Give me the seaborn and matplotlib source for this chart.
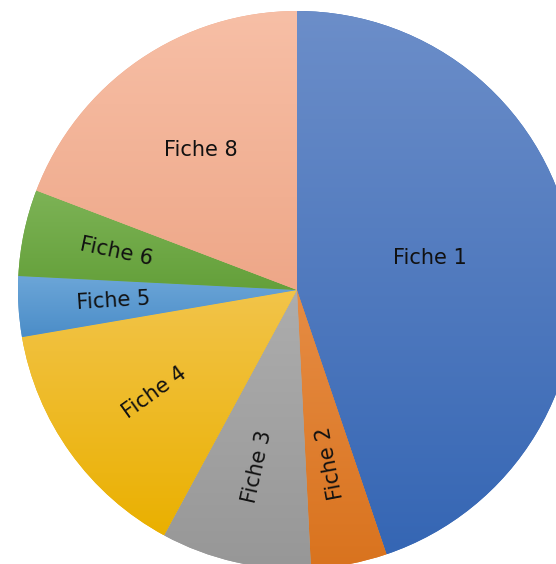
import numpy as np
import matplotlib
matplotlib.use("Agg")
import matplotlib.pyplot as plt
from matplotlib.colors import LinearSegmentedColormap
import seaborn as sns

sns.set_theme(style="white")
plt.rcParams['font.family'] = ['DejaVu Sans']

# Data (percent shares)
categories = ["Fiche 1", "Fiche 2", "Fiche 3", "Fiche 4", "Fiche 5", "Fiche 6", "Fiche 8"]
values = [44.8, 4.4, 8.7, 14.4, 3.5, 5.0, 19.2]
top_colors = ["#6C8EC9", "#E68C44", "#ADADAD", "#F2C44A", "#6CA6D8", "#7DB356", "#F7BFA6"]
bottom_colors = ["#3566B4", "#D9731E", "#979797", "#EAB000", "#4B8DC8", "#64A03A", "#EEA788"]
rotate_label = [False, True, True, True, True, True, False]
label_r = [0.49, 0.63, 0.65, 0.63, 0.66, 0.66, 0.61]

W, H, DPI = 556, 564, 100
fig = plt.figure(figsize=(W / DPI, H / DPI), dpi=DPI)
ax = fig.add_axes([0, 0, 1, 1])

R_PX = 279.0
CX, CY = 297.0, 290.0

wedges, _ = ax.pie(values, colors=bottom_colors, startangle=90, counterclock=False,
                   radius=1.0, center=(0, 0), wedgeprops=dict(linewidth=0),
                   frame=True)

for i, w in enumerate(wedges):
    t1, t2 = w.theta1, w.theta2
    ang = np.deg2rad(np.linspace(t1, t2, 200))
    xs = np.concatenate([[0], np.cos(ang)])
    ys = np.concatenate([[0], np.sin(ang)])
    x0, x1, y0, y1 = xs.min(), xs.max(), ys.min(), ys.max()
    cmap = LinearSegmentedColormap.from_list("g%d" % i, [bottom_colors[i], top_colors[i]])
    grad = np.linspace(0, 1, 256).reshape(-1, 1)
    im = ax.imshow(grad, cmap=cmap, extent=[x0, x1, y0, y1], origin='lower',
                   aspect='auto', interpolation='bilinear', zorder=2)
    im.set_clip_path(w)

    mid = (t1 + t2) / 2.0
    r = label_r[i]
    lx, ly = r * np.cos(np.deg2rad(mid)), r * np.sin(np.deg2rad(mid))
    if i == 0:
        lx, ly = 0.477, 0.115
    rot = 0
    if rotate_label[i]:
        rot = (mid + 180) % 360
        if rot > 180:
            rot -= 360
    ax.text(lx, ly, categories[i], ha='center', va='center', rotation=rot,
            rotation_mode='anchor', fontsize=15, fontstyle='normal',
            color='#111111', zorder=5)

ax.set_xlim(-CX / R_PX, (W - CX) / R_PX)
ax.set_ylim(-(H - CY) / R_PX, CY / R_PX)
ax.set_aspect('auto')
ax.set_axis_off()
fig.savefig("out.png", dpi=DPI, facecolor='white')
